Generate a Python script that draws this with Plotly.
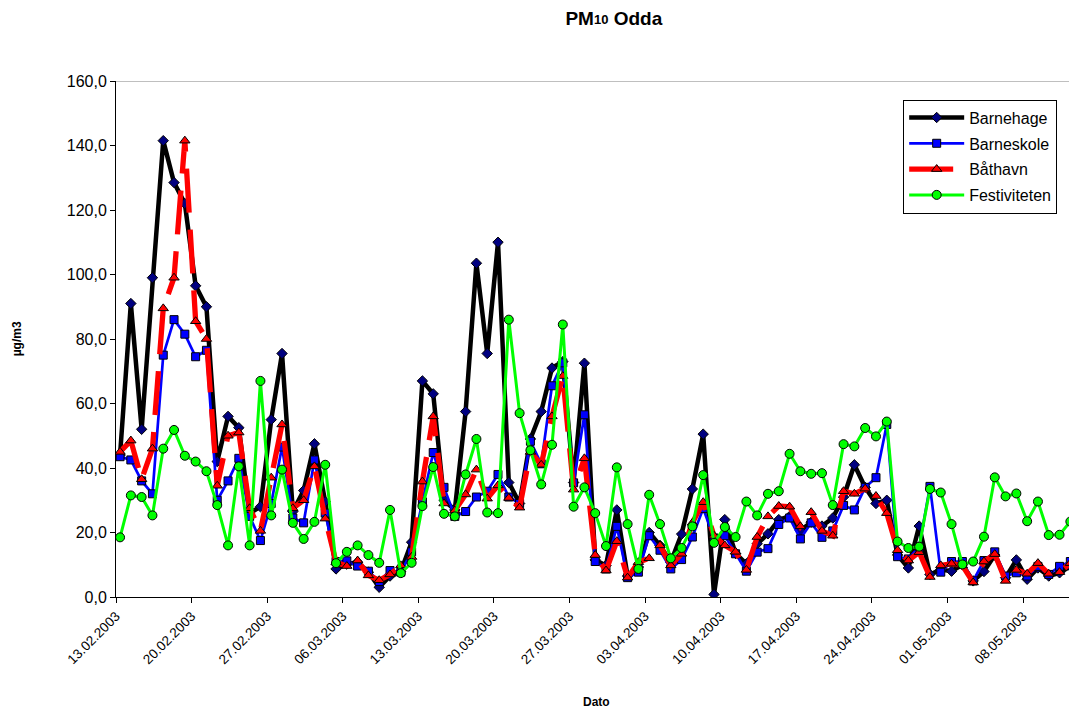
import pandas as pd
import plotly.graph_objects as go

# PM10 Odda, daglige verdier 13.02.2003 - 14.05.2003

barnehage = [44, 91, 52, 99, 141.5, 128.5, 122, 96.5, 90, 42, 56, 52.5, 26, 28, 55,
             75.5, 26.5, 33, 47.5, 29.5, 8.7, 10.2, 10.8, 7.7, 3.0, 6.5, 8, 17, 67, 63,
             30, 27, 57.5, 103.5, 75.5, 110, 35.5, 29, 49, 57.5, 71, 73, 35.5, 72.5, 11.5,
             9.8, 27, 6.5, 9.3, 20, 16, 10.8, 19.5, 33.5, 50.5, 0.8, 24, 13.5, 10.3, 16.5,
             19.6, 24, 25, 20.6, 23.2, 22, 24.5, 31, 41, 34, 29, 30, 13, 9, 22,
             7, 8.5, 8, 10, 5, 7.9, 13, 6, 11.5, 5.5, 9, 6.5, 7.5, 9.5, 8]

barneskole = [43.5, 42.5, 36, 32, 75, 86, 81.5, 74.5, 76.5, 30, 36, 43, 25, 17.5, 29,
              46.5, 24.5, 23, 42.5, 26, 11, 11.2, 9.6, 8.0, 4.8, 8.2, 7.7, 14, 29.5, 44.8,
              34, 25, 26.5, 31, 32.8, 38, 31, 29, 48.3, 41.3, 65.5, 72.6, 35.4, 56.5, 11,
              8.7, 21.9, 6, 7.7, 19, 14.5, 8.7, 11.6, 18.6, 27.4, 18.3, 19, 13.4, 8, 13.9,
              15, 22.5, 24.5, 18, 23, 18.5, 20.5, 28.4, 27, 34, 37, 53.5, 12.5, 11.8, 15.5,
              34.3, 7.7, 11, 11, 5, 11.3, 14, 6.5, 7.5, 6.5, 9.5, 7, 9.5, 11, 9]

baathavn = [45, 48.5, 36.5, 46, 89.5, 99, 141.5, 85.5, 80, 34.5, 50, 51, 27.5, 20.5, 37,
            53.5, 27.5, 30, 40.5, 24.3, 10.8, 9.6, 11.3, 6.7, 5.2, 7, 9.8, 12.4, 35.8, 56,
            29, 26.8, 31.8, 39.5, 30.5, 34.6, 30.7, 27.7, 45, 41, 56, 68.5, 33.3, 43, 13,
            8.2, 17.3, 6, 10.8, 12, 16, 9.8, 13.4, 23, 29.4, 19, 16, 14, 8.4, 18.6,
            25, 28.2, 28, 21.9, 26.3, 20.5, 19, 32.8, 32, 33.6, 31.3, 26, 14.5, 11.3, 13.9,
            6.2, 9.8, 10.3, 9.8, 4.5, 11, 13.3, 5, 8.4, 7.2, 10.5, 7.2, 7.7, 10.5, 9]

festiviteten = [18.5, 31.5, 31, 25.3, 46, 51.8, 43.8, 42, 39, 28.5, 16, 40.5, 16, 67, 25.3,
                39.5, 23, 18, 23.3, 41, 10.5, 14, 16, 13, 10.6, 27, 7.4, 10.6, 28.2, 40.3,
                25.8, 25, 38, 49, 26.2, 26, 86, 57, 45.5, 34.9, 47.2, 84.5, 28, 34, 26,
                15.8, 40.2, 22.6, 8.7, 31.7, 22.6, 12, 15.2, 21.9, 37.8, 16.8, 21.7, 18.6, 29.6, 25.3,
                32, 32.8, 44.4, 39, 38.2, 38.4, 28.5, 47.4, 46.7, 52.4, 49.8, 54.4, 17.2, 15.2, 15.6,
                33.5, 32.4, 22.6, 10.1, 11, 18.7, 37.1, 31.2, 32.1, 23.5, 29.6, 19.2, 19.3, 23.4, 6]

# maalingene er plassert litt ut paa dagen
dato = pd.date_range("2003-02-13", periods=len(barnehage), freq="D") + pd.Timedelta(hours=9)

fig = go.Figure()
fig.add_trace(go.Scatter(x=dato, y=barnehage, mode='lines+markers', name='Barnehage',
                         legendgroup='a',
                         line=dict(color='black', width=4.5),
                         marker=dict(symbol='diamond', size=8, color='#000080',
                                     line=dict(color='black', width=1))))
fig.add_trace(go.Scatter(x=dato, y=barneskole, mode='lines+markers', name='Barneskole',
                         legendgroup='b',
                         line=dict(color='#0000FF', width=2.7),
                         marker=dict(symbol='square', size=8, color='#0000FF',
                                     line=dict(color='black', width=1))))
fig.add_trace(go.Scatter(x=dato, y=baathavn, mode='lines+markers', name='Båthavn',
                         legendgroup='c',
                         line=dict(color='#FF0000', width=5.3, dash='44px,17px'),
                         marker=dict(symbol='triangle-up', size=9, color='#FF0000',
                                     line=dict(color='black', width=1))))
fig.add_trace(go.Scatter(x=dato, y=festiviteten, mode='lines+markers', name='Festiviteten',
                         legendgroup='d',
                         line=dict(color='#00FF00', width=3),
                         marker=dict(symbol='circle', size=9, color='#00FF00',
                                     line=dict(color='black', width=1))))

font = "Liberation Sans, Arial, sans-serif"
# siden har 8px body-margin og figuren krymper til 1061px bredde
fig.update_layout(
    width=1061, height=703,
    margin=dict(l=108, r=0, t=73, b=114),
    paper_bgcolor='white', plot_bgcolor='white',
    separators=', ',
    font=dict(family=font, size=13, color='black'),
    title=dict(text="<b>PM<span style='font-size:13px'>10</span> Odda</b>",
               x=0.571, xanchor='center', y=0.986, yanchor='middle',
               font=dict(family=font, size=19, color='black')),
    showlegend=True,
    legend=dict(x=0.826, y=0.964, xanchor='left', yanchor='top',
                bgcolor='white', bordercolor='black', borderwidth=1,
                font=dict(family=font, size=16, color='black'),
                tracegroupgap=2, itemwidth=55),
    annotations=[
        dict(text="<b>µg/m3</b>", x=-0.103, y=0.501, xref='paper', yref='paper',
             xanchor='center', yanchor='middle',
             textangle=-90, showarrow=False, font=dict(family=font, size=12)),
        dict(text="<b>Dato</b>", x=0.504, y=-0.2035, xref='paper', yref='paper',
             xanchor='center', yanchor='middle',
             showarrow=False, font=dict(family=font, size=12)),
    ],
    shapes=[dict(type='line', xref='paper', yref='y', x0=0, x1=1, y0=160, y1=160,
                 line=dict(color='#808080', width=1))],
)
fig.update_xaxes(range=["2003-02-13", "2003-05-12T06:00"], tick0="2003-02-13",
                 dtick=7 * 86400000, tickformat="%d.%m.%Y", tickangle=-45,
                 ticks='outside', ticklen=5, tickcolor='black',
                 showline=True, linecolor='black', linewidth=1,
                 showgrid=False, zeroline=False,
                 tickfont=dict(family=font, size=13.5))
fig.update_yaxes(range=[0, 160], dtick=20, tickformat=".1f",
                 ticks='outside', ticklen=5, tickcolor='black',
                 showline=True, linecolor='black', linewidth=1,
                 showgrid=False, zeroline=False,
                 tickfont=dict(family=font, size=16))

fig.write_html("out.html")
